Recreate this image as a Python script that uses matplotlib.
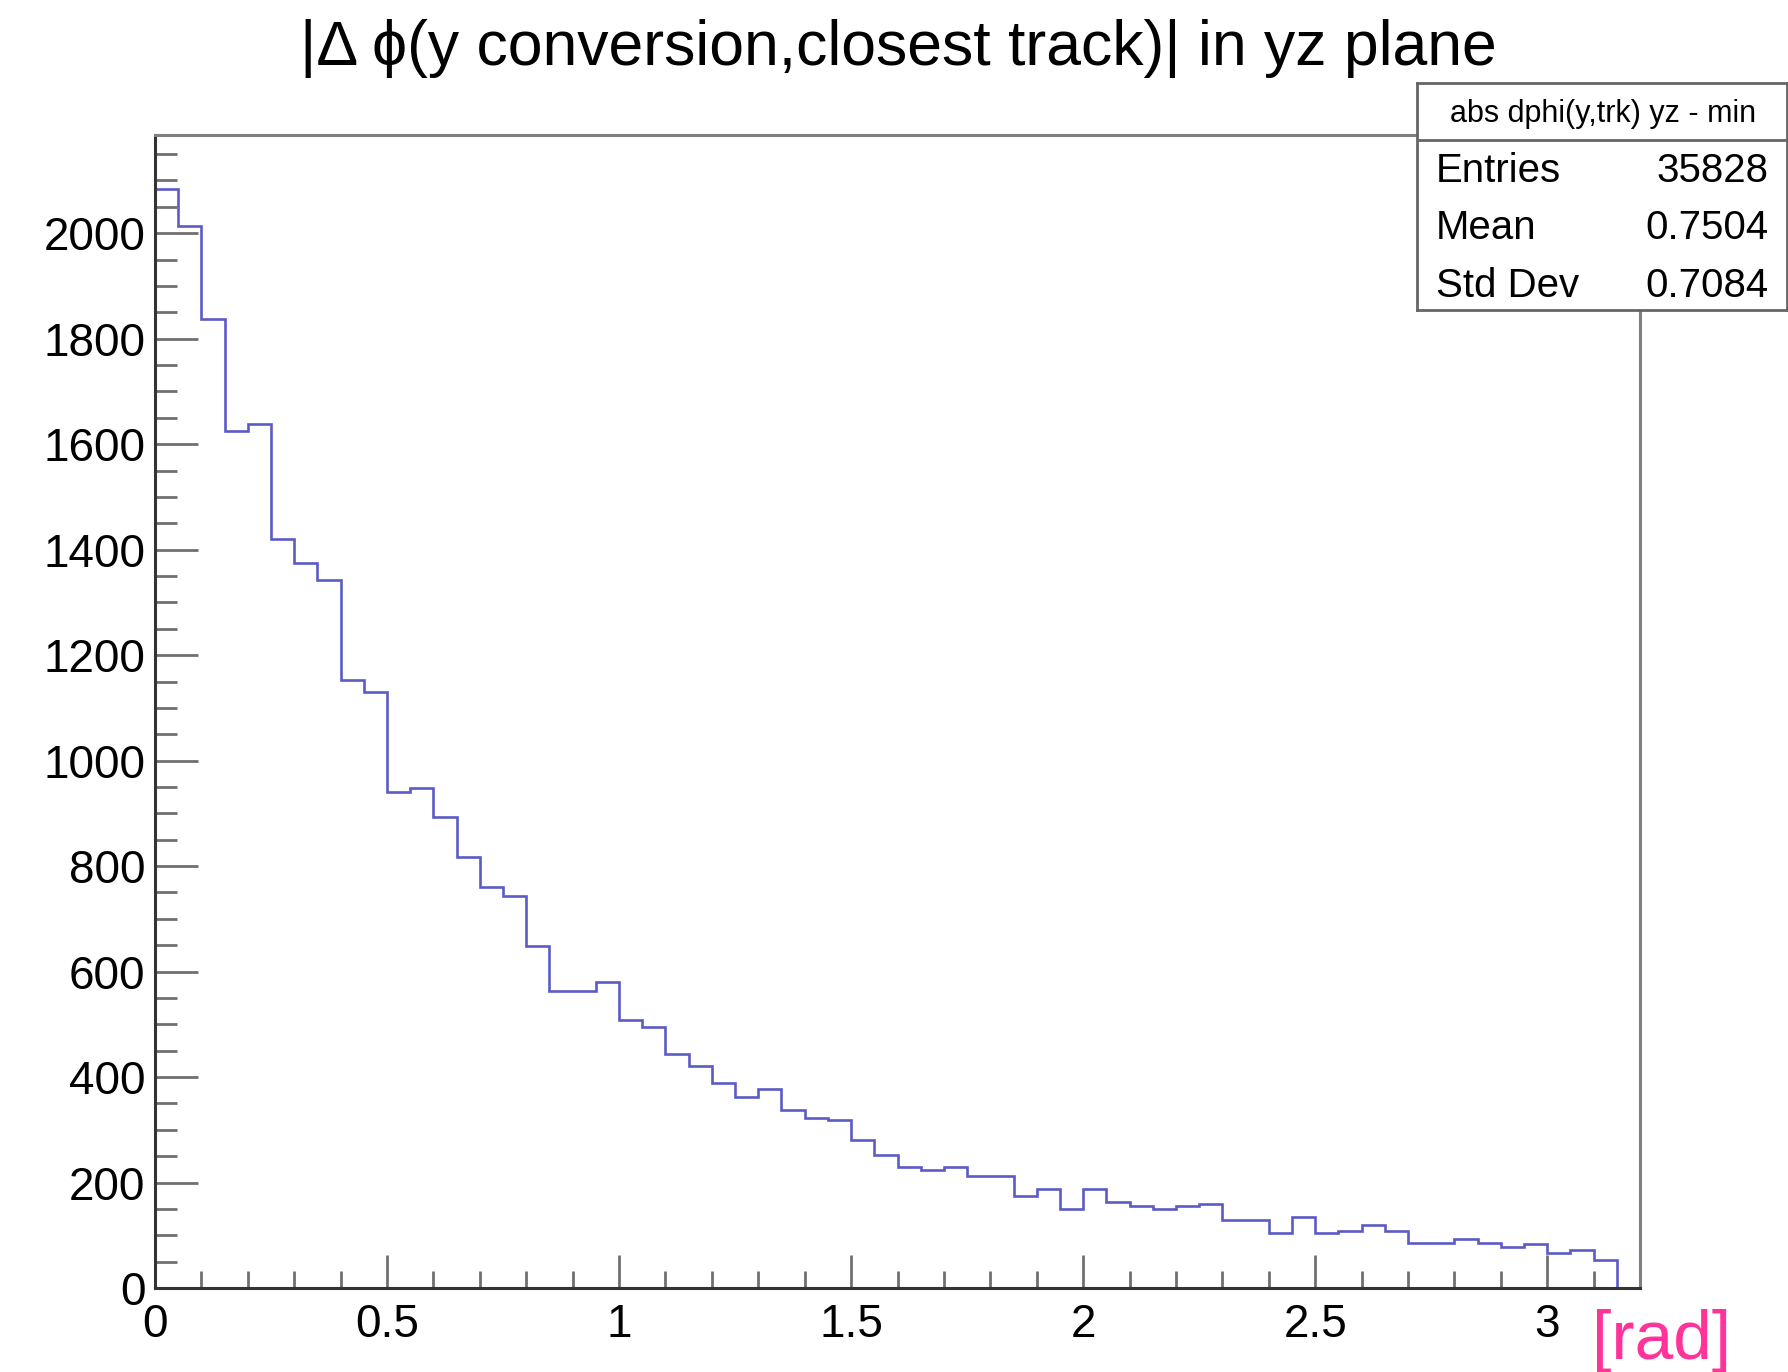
import numpy as np
import matplotlib
matplotlib.use("Agg")
import matplotlib.pyplot as plt
from matplotlib.ticker import MultipleLocator

# Histogram contents: 64 bins of width 0.05 between 0 and 3.2
bin_lo = 0.0
bin_hi = 3.2
counts = [2083, 2014, 1837, 1625, 1639, 1421, 1374, 1342,
          1153, 1130, 940, 949, 893, 818, 760, 744,
          648, 564, 564, 581, 509, 495, 444, 420,
          388, 363, 378, 337, 323, 318, 281, 253,
          229, 224, 229, 212, 212, 174, 188, 150,
          188, 164, 155, 150, 155, 160, 128, 128,
          104, 135, 104, 109, 119, 109, 85, 85,
          92, 85, 78, 83, 66, 73, 54, 0]

stats_name = "abs dphi(y,trk) yz - min"
stats_rows = [("Entries", "35828"), ("Mean", "0.7504"), ("Std Dev", "0.7084")]

title = "|\u0394 \u03d5(y conversion,closest track)| in yz plane"
xunit = "[rad]"

plt.rcParams['font.family'] = ['Liberation Sans', 'DejaVu Sans']

W, H = 1788, 1372
fig = plt.figure(figsize=(W / 100, H / 100), dpi=100)

# main frame (pixel positions)
left, right, top, bottom = 155, 1640, 134.6, 1288
ax = fig.add_axes([left / W, (H - bottom) / H, (right - left) / W, (bottom - top) / H])

edges = np.linspace(bin_lo, bin_hi, len(counts) + 1)
ax.stairs(counts, edges, color='#5b5bc8', linewidth=1.9)

ax.set_xlim(bin_lo, bin_hi)
ax.set_ylim(0, 2187)
ax.xaxis.set_minor_locator(MultipleLocator(0.1))
ax.yaxis.set_major_locator(MultipleLocator(200))
ax.yaxis.set_minor_locator(MultipleLocator(50))
ax.set_xticks([0, 0.5, 1, 1.5, 2, 2.5, 3])
ax.set_xticklabels(["0", "0.5", "1", "1.5", "2", "2.5", "3"])

ax.tick_params(axis='both', which='both', direction='in', color='#707070', width=2, labelsize=33)
ax.tick_params(axis='y', which='major', length=31, pad=7)
ax.tick_params(axis='y', which='minor', length=16)
ax.tick_params(axis='x', which='major', length=24, pad=11)
ax.tick_params(axis='x', which='minor', length=12)

for side in ['left', 'bottom']:
    ax.spines[side].set_color('#333333')
    ax.spines[side].set_linewidth(2.2)
for side in ['top', 'right']:
    ax.spines[side].set_color('#808080')
    ax.spines[side].set_linewidth(2.2)

fig.text(898 / W, 1 - 65 / H, title, ha='center', va='baseline', fontsize=45)

fig.text(1731 / W, 1 - 1359 / H, xunit, ha='right', va='baseline', fontsize=50, color='#ff3399')

# stats box
bx0, bx1, by0, by1 = 1416.7, 1787, 83.3, 310
box = fig.add_axes([bx0 / W, (H - by1) / H, (bx1 - bx0) / W, (by1 - by0) / H])
box.set_xticks([])
box.set_yticks([])
box.set_xlim(0, 1)
box.set_ylim(0, 1)
for s in box.spines.values():
    s.set_color('#666666')
    s.set_linewidth(2)
box.axhline(0.75, color='#666666', linewidth=2)
box.text(0.503, 0.865, stats_name, ha='center', va='center', fontsize=22)
row_y = [0.565, 0.311, 0.057]
for (name, val), y in zip(stats_rows, row_y):
    box.text(0.052, y, name, ha='left', va='baseline', fontsize=29)
    box.text(0.951, y, val, ha='right', va='baseline', fontsize=29)

fig.savefig("out.png", dpi=100)
